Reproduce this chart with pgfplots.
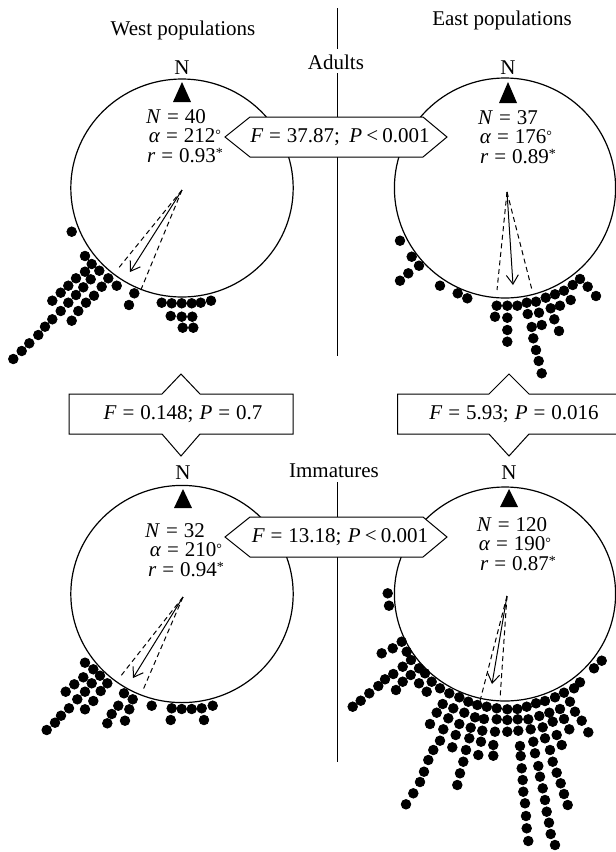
\documentclass[border=0pt]{standalone}
\usepackage{fontspec}
\setmainfont{Liberation Serif}
\usepackage{pgfplots}
\pgfplotsset{compat=1.18}
\usetikzlibrary{arrows.meta}
\newcommand\eq{\hspace{0.28em}=\hspace{0.28em}}
\newcommand\lt{\hspace{0.2em}<\hspace{0.2em}}
\newcommand\dg{{\fontsize{7}{7}\selectfont\raisebox{0.45ex}{°}}}
\newcommand\st{{\fontsize{7}{7}\selectfont\raisebox{0.3em}{*}}}

\pgfplotstableread{
x y
85 256
91.7 264
85 271.7
99.3 270.7
76 278.3
90.7 279.3
108.3 278.3
68.3 285.7
83.3 287.3
101.7 286.7
116.7 285.7
60.7 292.7
76 295
94 295.7
52.3 300.7
68.3 302.7
86 302.7
134.3 293.3
129 305
60.7 311
78.3 311
52.3 319.3
71.7 320.7
45 326.7
38.3 335
29.3 343.3
21.7 351
13.3 359
161.7 302.7
171.7 303.3
181.7 303.3
191.7 303.3
200.7 302.7
211 300.7
170.7 316
181.7 316.7
192.3 316.7
182.7 327.7
193.3 327.7
71.7 231.7
}\westadults

\pgfplotstableread{
x y
400 240.7
411.7 256.7
419 265.7
408.3 273.3
400 280.7
440 285.7
457.7 293.3
467.3 298.3
496.7 305.7
507.3 305.7
517.3 305.7
526.7 302.7
536 301.7
545.7 297.7
555 294.3
564 290.7
572.7 285
580 279
587.7 286.7
596 296
495 316.7
507.3 317.7
527.7 314
539 312.7
550.7 308.3
560 305.7
570.7 300
507.3 330
531.7 327
541.7 325
554.3 319.3
559 331
507.3 341.7
533.3 338.3
536 350
538.7 361
541.7 373.3
}\eastadults

\pgfplotstableread{
x y
85 662.7
93.3 669.3
83.3 677.3
100 675.7
74.3 684.3
91.7 683.3
107.3 683.3
65.7 691.7
85 691.7
100.7 691
124 693.3
132.7 699.3
77.3 699.3
93.3 701
118.3 705.7
129.3 709.3
151.7 705.7
69 708.3
85 709.3
61 715.7
111.7 714
171.7 708.3
181.7 709
191.7 709
201.7 708.3
212.7 705.7
55 722.7
107.3 723.3
125 720.7
170.7 720
204 720
46.7 730
}\westimm

\pgfplotstableread{
x y
387.7 593.3
389 605.7
401.7 641.7
392.7 648.3
381.7 653.3
406.7 651.7
411 660
402.7 666.7
393.3 674
385 679.3
378.3 686
369.3 693.3
360.7 700.7
352.7 706.7
419 668.3
410.7 675
402.7 681.7
396 690
419 683.3
425 673.3
431.7 681.7
440 688.3
449.3 693.3
459.3 697.3
468.3 701.7
477.3 705
486.7 706.7
496.7 708.3
507.3 709.3
517.3 709
526.7 706.7
536 703.3
545 701
555 697.3
564 692.7
574 688.3
580 682.3
594 668.3
601.7 660.7
426.7 691.7
442.7 704
453.3 708.3
464.3 712.7
475 717.3
484 719
496.7 719.3
507.3 720
517.7 719.3
528.3 719.3
539.3 716
549.3 712.7
560 709
570 701.7
575 711.7
581.7 720.7
588.3 732.3
436.7 712.7
448.3 718.3
459.3 724
470.7 727.7
482.3 730.7
495 731.7
507.3 731.7
518.3 730.7
530.7 729.3
542.7 727.3
552.7 721.7
564 719
569.3 729.3
430 724
443.3 729.3
455.7 735
469.3 738.3
481 741.7
493.3 745
520 746
533.3 741.7
545 738.3
556.7 735
561.7 745
440 740.7
452.3 747.3
466 750
478.3 755
493.3 755.7
520.7 756
535 753.3
550 750
433.3 750
428.3 760
424 771.7
420 782
413.3 793.3
406 804.3
463.3 761.7
460 773.3
457.3 785
521.7 768.3
522.7 780
523.3 791.7
525 803.3
526 816
526.7 828.3
528.3 841
538.3 766
540 776.7
542.7 788.3
545 800
546.7 811.7
549 822.7
550.7 834
555 845
552.7 761.7
556.7 772.7
560.7 783.3
564 794
567.7 805
}\eastimm

\begin{document}
\begin{tikzpicture}
\tikzset{lbl/.style={font=\fontsize{10.5}{12}\selectfont, inner sep=0pt},
  stats/.style={font=\fontsize{10.5}{9.6}\selectfont, inner sep=0pt, align=center},
  dots/.style={only marks, mark=*, mark size=2.4pt, mark options={draw=none, fill=black}},
  mean/.style={black, line width=0.5pt, -{Straight Barb[length=4.5pt,width=6pt]}},
  ci/.style={black, line width=0.5pt, dash pattern=on 2.5pt off 1.8pt},
  ring/.style={line width=0.6pt}}
\begin{axis}[x=0.5pt, y=0.5pt, y dir=reverse,
  xmin=0, xmax=616, ymin=0, ymax=852,
  hide axis, clip=false, enlargelimits=false]
\coordinate (BL) at (axis cs:0,852);
\coordinate (TR) at (axis cs:616,0);

% circles
\draw[ring] (axis cs:182,188) ellipse [x radius=55.6pt, y radius=54.5pt];
\draw[ring] (axis cs:505,188) ellipse [x radius=55.3pt, y radius=55pt];
\draw[ring] (axis cs:182,594) ellipse [x radius=55.6pt, y radius=54.3pt];
\draw[ring] (axis cs:505,594) ellipse [x radius=55.3pt, y radius=53.5pt];

% dividers
\draw[line width=0.5pt] (axis cs:337,8) -- (axis cs:337,49);
\draw[line width=0.5pt] (axis cs:337,73) -- (axis cs:337,356);
\draw[line width=0.5pt] (axis cs:337,482) -- (axis cs:337,762);

% north markers
\fill (axis cs:173,102) -- (axis cs:182,82) -- (axis cs:191,102) -- cycle;
\fill (axis cs:499,103) -- (axis cs:508,82) -- (axis cs:517,103) -- cycle;
\fill (axis cs:174,508) -- (axis cs:183,489) -- (axis cs:192,508) -- cycle;
\fill (axis cs:500,507) -- (axis cs:509,489) -- (axis cs:518,507) -- cycle;

% dots
\addplot[dots] table {\westadults};
\addplot[dots] table {\eastadults};
\addplot[dots] table {\westimm};
\addplot[dots] table {\eastimm};

% mean vectors and confidence limits
\addplot[ci] coordinates {(182,190) (117,270)};
\addplot[ci] coordinates {(182,190) (140,292)};
\addplot[mean] coordinates {(182,190) (130,272)};
\addplot[ci] coordinates {(507,192) (497,290)};
\addplot[ci] coordinates {(507,192) (532,290)};
\addplot[mean] coordinates {(507,192) (513,285)};
\addplot[ci] coordinates {(183,597) (120,677)};
\addplot[ci] coordinates {(183,597) (143,690)};
\addplot[mean] coordinates {(183,597) (133,678)};
\addplot[ci] coordinates {(507,596) (480,701)};
\addplot[ci] coordinates {(507,596) (500,699)};
\addplot[mean] coordinates {(507,596) (492,684)};

% F boxes
\draw[line width=0.5pt, fill=white] (axis cs:225,137) -- (axis cs:250,117) -- (axis cs:423,117) -- (axis cs:447,137) -- (axis cs:423,157) -- (axis cs:250,157) -- cycle;
\draw[line width=0.5pt, fill=white] (axis cs:225,537) -- (axis cs:250,517) -- (axis cs:423,517) -- (axis cs:447,537) -- (axis cs:423,557) -- (axis cs:250,557) -- cycle;
\draw[line width=0.5pt, fill=white] (axis cs:69,394) -- (axis cs:162,394) -- (axis cs:181,374) -- (axis cs:200,394) -- (axis cs:293,394) -- (axis cs:293,434) -- (axis cs:200,434) -- (axis cs:181,456) -- (axis cs:162,434) -- (axis cs:69,434) -- cycle;
\draw[line width=0.5pt, fill=white] (axis cs:616,394) -- (axis cs:529,394) -- (axis cs:509,374) -- (axis cs:489,394) -- (axis cs:397.5,394) -- (axis cs:397.5,434) -- (axis cs:489,434) -- (axis cs:509,456) -- (axis cs:529,434) -- (axis cs:616,434);

\node[lbl] at (axis cs:340,137) {\textit{F}\eq 37.87;\hspace{0.45em}\textit{P}\lt 0.001};
\node[lbl] at (axis cs:340,537) {\textit{F}\eq 13.18;\hspace{0.3em}\textit{P}\lt 0.001};
\node[lbl] at (axis cs:183,414) {\textit{F}\eq 0.148;\hspace{0.3em}\textit{P}\eq 0.7};
\node[lbl] at (axis cs:514,414) {\textit{F}\eq 5.93;\hspace{0.3em}\textit{P}\eq 0.016};

% titles
\node[lbl] at (axis cs:183,30) {West populations};
\node[lbl] at (axis cs:502,20) {East populations};
\node[lbl] at (axis cs:336,62) {Adults};
\node[lbl] at (axis cs:334,471) {Immatures};
\node[lbl] at (axis cs:182,68) {N};
\node[lbl] at (axis cs:508,68) {N};
\node[lbl] at (axis cs:183,473) {N};
\node[lbl] at (axis cs:509,473) {N};

% statistics
\node[stats] at (axis cs:185,136) {\textit{N}\eq 40\hspace*{9pt}\\\textit{α}\eq 212\dg\hspace*{1pt}\\\textit{r}\eq 0.93\st};
\node[stats] at (axis cs:516,137) {\textit{N}\eq 37\hspace*{8pt}\\\textit{α}\eq 176\dg\\\hspace*{2pt}\textit{r}\eq 0.89\st};
\node[stats] at (axis cs:186,550) {\textit{N}\eq 32\hspace*{11pt}\\\textit{α}\eq 210\dg\\\textit{r}\eq 0.94\st};
\node[stats] at (axis cs:515,544) {\textit{N}\eq 120\hspace*{3pt}\\\textit{α}\eq 190\dg\\\hspace*{3pt}\textit{r}\eq 0.87\st};
\end{axis}
\pgfresetboundingbox
\path (BL) rectangle (TR);
\end{tikzpicture}
\end{document}
